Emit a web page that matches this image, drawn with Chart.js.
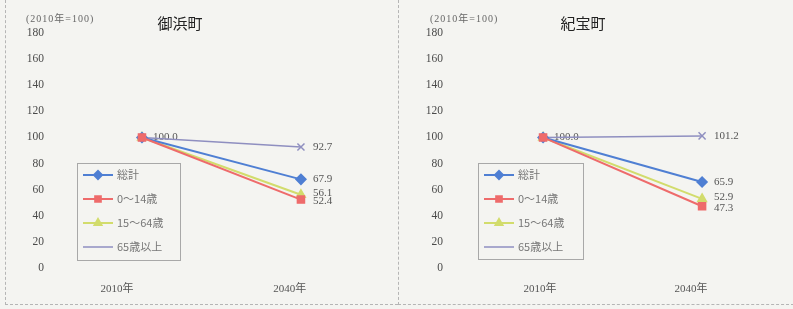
<!DOCTYPE html>
<html>
<head>
<meta charset="utf-8">
<script src="https://cdn.jsdelivr.net/npm/chart.js@4.4.1/dist/chart.umd.min.js"></script>
<style>
html, body { margin: 0; padding: 0; background: #f4f4f1; }
body { width: 793px; height: 309px; position: relative; overflow: hidden; }
.panel { position: absolute; top: 0; height: 304px; border-left: 1px dashed #b5b5b5; border-bottom: 1px dashed #b5b5b5; }
#p1 { left: 5px; width: 392px; }
#p2 { left: 398px; width: 395px; }
canvas { position: absolute; top: 0; }
</style>
</head>
<body>
<div class="panel" id="p1"></div>
<div class="panel" id="p2"></div>
<canvas id="c1" width="397" height="309" style="left:0"></canvas>
<canvas id="c2" width="396" height="309" style="left:397px"></canvas>
<script>
const years = ['2010年', '2040年'];
const seriesNames = ['総計', '0～14歳', '15～64歳', '65歳以上'];
const yTicks = [0, 20, 40, 60, 80, 100, 120, 140, 160, 180];

// 御浜町
const mihamaTotal = [100, 67.9];
const mihamaYoung = [100, 52.4];
const mihamaWorking = [100, 56.1];
const mihamaElderly = [100, 92.7];

// 紀宝町
const kihoTotal = [100, 65.9];
const kihoYoung = [100, 47.3];
const kihoWorking = [100, 52.9];
const kihoElderly = [100, 101.2];

const serif = '"Liberation Serif", "Noto Sans CJK JP", serif';
const gothic = '"Noto Sans CJK JP", sans-serif';
const bg = '#f4f4f1';
const styles = [
    { color: '#4f7fd3', point: 'rectRot', r: 5, w: 2, order: 1 },
    { color: '#ee6b6b', point: 'rect', r: 5, w: 2, order: 0 },
    { color: '#d2dc6c', point: 'triangle', r: 5, w: 2, order: 2 },
    { color: '#8f8fc0', point: 'crossRot', r: 5, w: 1.5, order: 3 }
];
const nudge = [0, 2, -2, 0];

const valueLabels = {
    id: 'valueLabels',
    beforeDatasetsDraw(chart) {
        const ctx = chart.ctx;
        ctx.save();
        ctx.font = '11px ' + serif;
        ctx.fillStyle = '#555';
        ctx.textBaseline = 'middle';
        ctx.textAlign = 'left';
        chart.data.datasets.forEach((ds, i) => {
            const pts = chart.getDatasetMeta(i).data;
            if (i === 0) ctx.fillText(ds.data[0].y.toFixed(1), pts[0].x + 11, pts[0].y);
            ctx.fillText(ds.data[1].y.toFixed(1), pts[1].x + 12, pts[1].y + nudge[i]);
        });
        ctx.restore();
    }
};

const headings = {
    id: 'headings',
    afterDraw(chart, args, o) {
        const ctx = chart.ctx;
        ctx.save();
        ctx.fillStyle = '#666';
        ctx.font = '10px ' + serif;
        ctx.letterSpacing = '1px';
        ctx.textBaseline = 'middle';
        ctx.textAlign = 'left';
        ctx.fillText('(2010年=100)', o.noteX, 19);
        ctx.letterSpacing = '0px';
        ctx.fillStyle = '#222';
        ctx.font = '15px ' + gothic;
        ctx.textAlign = 'center';
        ctx.fillText(o.title, o.titleX, 23);
        ctx.restore();
    }
};

const boxLegend = {
    id: 'boxLegend',
    afterDraw(chart, args, o) {
        const ctx = chart.ctx;
        const [bx, by, bw, bh] = o.box;
        ctx.save();
        ctx.fillStyle = bg;
        ctx.fillRect(bx, by, bw, bh);
        ctx.strokeStyle = '#a8a8a8';
        ctx.lineWidth = 1;
        ctx.strokeRect(bx + 0.5, by + 0.5, bw, bh);
        ctx.font = '11px ' + gothic;
        ctx.textBaseline = 'middle';
        seriesNames.forEach((name, i) => {
            const st = styles[i];
            const y = by + 12 + i * 24;
            ctx.strokeStyle = st.color;
            ctx.fillStyle = st.color;
            ctx.lineWidth = st.w;
            ctx.beginPath();
            ctx.moveTo(bx + 6, y);
            ctx.lineTo(bx + 36, y);
            ctx.stroke();
            if (i < 3) Chart.helpers.drawPoint(ctx, { pointStyle: st.point, radius: 4, borderWidth: 1 }, bx + 21, y);
            ctx.fillStyle = '#777';
            ctx.fillText(name, bx + 40, y);
        });
        ctx.restore();
    }
};

function makeChart(id, cfg) {
    const ctx = document.getElementById(id).getContext('2d');
    const datasets = cfg.values.map((vals, i) => ({
        label: seriesNames[i],
        data: vals.map((v, k) => ({ x: k, y: v })),
        borderColor: styles[i].color,
        backgroundColor: styles[i].color,
        borderWidth: styles[i].w,
        pointStyle: styles[i].point,
        pointRadius: styles[i].r,
        pointBorderWidth: 1.5,
        order: styles[i].order,
        tension: 0
    }));
    return new Chart(ctx, {
        type: 'line',
        data: { datasets: datasets },
        options: {
            responsive: false,
            animation: false,
            devicePixelRatio: 1,
            layout: { padding: { top: 33, left: 0, right: cfg.padRight, bottom: 0 } },
            scales: {
                x: {
                    type: 'linear', min: cfg.xMin, max: cfg.xMax,
                    grid: { display: false }, border: { display: false },
                    afterBuildTicks: (s) => { s.ticks = cfg.tickAt.map(v => ({ value: v })); },
                    afterFit: (s) => { s.height = 41; },
                    ticks: { autoSkip: false, maxRotation: 0, padding: 7, color: '#555', font: { family: serif, size: 11 },
                        callback: (v, i) => years[i] }
                },
                y: {
                    min: 0, max: 180,
                    grid: { display: false }, border: { display: false },
                    afterBuildTicks: (s) => { s.ticks = yTicks.map(v => ({ value: v })); },
                    afterFit: (s) => { s.width = cfg.yWidth; },
                    ticks: { padding: 7, color: '#4a4a4a', font: { family: serif, size: 11.5 } }
                }
            },
            plugins: {
                legend: { display: false },
                tooltip: { enabled: false },
                headings: { title: cfg.title, titleX: cfg.titleX, noteX: cfg.noteX },
                boxLegend: { box: cfg.legendBox }
            }
        },
        plugins: [valueLabels, headings, boxLegend]
    });
}

makeChart('c1', {
    title: '御浜町', titleX: 180, noteX: 26,
    values: [mihamaTotal, mihamaYoung, mihamaWorking, mihamaElderly],
    yWidth: 59, padRight: 25, xMin: -0.522, xMax: 1.447,
    tickAt: [-0.157, 0.93],
    legendBox: [77, 163, 103, 97]
});

makeChart('c2', {
    title: '紀宝町', titleX: 186, noteX: 33,
    values: [kihoTotal, kihoYoung, kihoWorking, kihoElderly],
    yWidth: 61, padRight: 20, xMin: -0.535, xMax: 1.446,
    tickAt: [-0.02, 0.93],
    legendBox: [81, 163, 105, 96]
});
</script>
</body>
</html>
